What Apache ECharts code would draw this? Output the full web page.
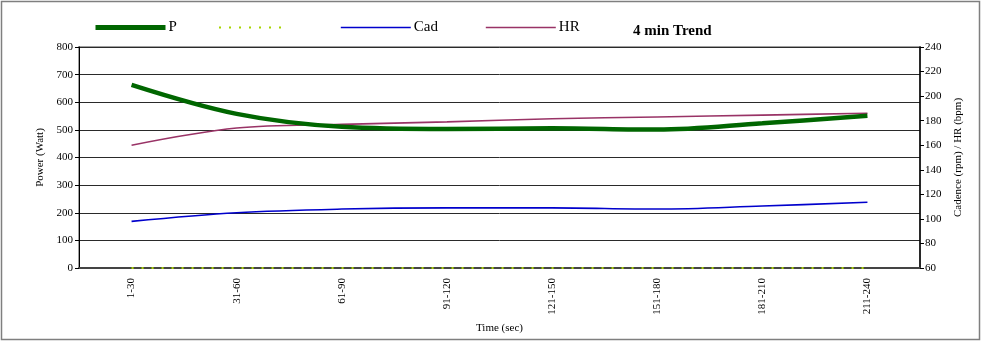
<!DOCTYPE html>
<html>
<head>
<meta charset="utf-8">
<script src="https://cdn.jsdelivr.net/npm/echarts@6/dist/echarts.min.js"></script>
<style>
  html, body { margin: 0; padding: 0; background: #fff; }
  #chart { width: 982px; height: 343px; }
</style>
</head>
<body>
<div id="chart"></div>
<script>
// Time buckets (seconds) for the 4 minute effort
const categories = ['1-30', '31-60', '61-90', '91-120', '121-150', '151-180', '181-210', '211-240'];
// Power in watts (left axis)
const power = [663, 558, 511, 503, 506, 501, 524, 551];
// Reference series on the power axis
const baseline = [0, 0, 0, 0, 0, 0, 0, 0];
// Cadence in rpm (right axis)
const cadence = [98, 105, 108, 109, 109, 108, 110.5, 113.5];
// Heart rate in bpm (right axis)
const heartRate = [160, 174, 177, 179, 181.5, 183, 184.5, 186];

const serif = '"Liberation Serif", "DejaVu Serif", serif';

const chart = echarts.init(document.getElementById('chart'));

function legendAt(name, left, lineWidth) {
  return {
    data: [name],
    left: left,
    top: 15,
    itemWidth: 70,
    itemHeight: 14,
    itemGap: 4,
    selectedMode: false,
    itemStyle: { opacity: 0 },
    lineStyle: { width: lineWidth },
    textStyle: { fontFamily: serif, fontSize: 15, color: '#000', padding: [0, 0, 0, -2] }
  };
}

chart.setOption({
  animation: false,
  backgroundColor: '#fff',
  title: {
    text: '4 min Trend',
    left: 628,
    top: 19,
    textStyle: { fontFamily: serif, fontSize: 15, fontWeight: 'bold', color: '#000' }
  },
  legend: [
    legendAt('P', 88, 5),
    legendAt(' ', 213, 2),
    legendAt('Cad', 335, 1.6),
    legendAt('HR', 480, 1.6)
  ],
  graphic: [{
    type: 'rect',
    shape: { x: 1.5, y: 1.5, width: 978, height: 338 },
    style: { fill: 'none', stroke: '#7f7f7f', lineWidth: 1.5 },
    silent: true
  }],
  grid: {
    left: 79, right: 62, top: 47, bottom: 75,
    show: true, borderColor: '#a0a0a0', borderWidth: 2
  },
  xAxis: {
    type: 'category',
    data: categories,
    boundaryGap: true,
    name: 'Time (sec)',
    nameLocation: 'middle',
    nameGap: 52,
    nameTextStyle: { fontFamily: serif, fontSize: 11, color: '#000' },
    axisLine: { lineStyle: { color: '#444', width: 2 } },
    axisTick: { show: false },
    axisLabel: { rotate: 90, fontFamily: serif, fontSize: 11, color: '#000', margin: 10 }
  },
  yAxis: [{
    type: 'value',
    min: 0, max: 800, interval: 100,
    name: 'Power (Watt)',
    nameLocation: 'middle',
    nameGap: 29,
    nameTextStyle: { fontFamily: serif, fontSize: 11, color: '#000' },
    axisLine: { show: true, lineStyle: { color: '#000', width: 1 } },
    axisTick: { show: true, length: 4, lineStyle: { color: '#000' } },
    axisLabel: { fontFamily: serif, fontSize: 11, color: '#000', margin: 6 },
    splitLine: { show: true, lineStyle: { color: '#2a2a2a', width: 1 } }
  }, {
    type: 'value',
    position: 'right',
    min: 60, max: 240, interval: 20,
    name: 'Cadence (rpm) / HR (bpm)',
    nameLocation: 'middle',
    nameGap: 33,
    nameRotate: 90,
    nameTextStyle: { fontFamily: serif, fontSize: 11, color: '#000' },
    axisLine: { show: true, lineStyle: { color: '#000', width: 1.5 } },
    axisTick: { show: true, length: 4, lineStyle: { color: '#000' } },
    axisLabel: { fontFamily: serif, fontSize: 11, color: '#000', margin: 5 },
    splitLine: { show: false }
  }],
  series: [{
    name: 'P',
    type: 'line',
    data: power,
    yAxisIndex: 0,
    smooth: 0.35,
    symbol: 'none',
    lineStyle: { color: '#006600', width: 4.5 },
    itemStyle: { color: '#006600' },
    z: 5
  }, {
    name: ' ',
    type: 'line',
    data: baseline,
    yAxisIndex: 0,
    symbol: 'none',
    lineStyle: { color: '#a8d400', width: 2, type: [2, 8] },
    itemStyle: { color: '#a8d400' },
    z: 6
  }, {
    name: 'Cad',
    type: 'line',
    data: cadence,
    yAxisIndex: 1,
    smooth: 0.35,
    symbol: 'none',
    lineStyle: { color: '#0000cc', width: 1.6 },
    itemStyle: { color: '#0000cc' },
    z: 4
  }, {
    name: 'HR',
    type: 'line',
    data: heartRate,
    yAxisIndex: 1,
    smooth: 0.35,
    symbol: 'none',
    lineStyle: { color: '#993366', width: 1.6 },
    itemStyle: { color: '#993366' },
    z: 4
  }]
});
</script>
</body>
</html>
